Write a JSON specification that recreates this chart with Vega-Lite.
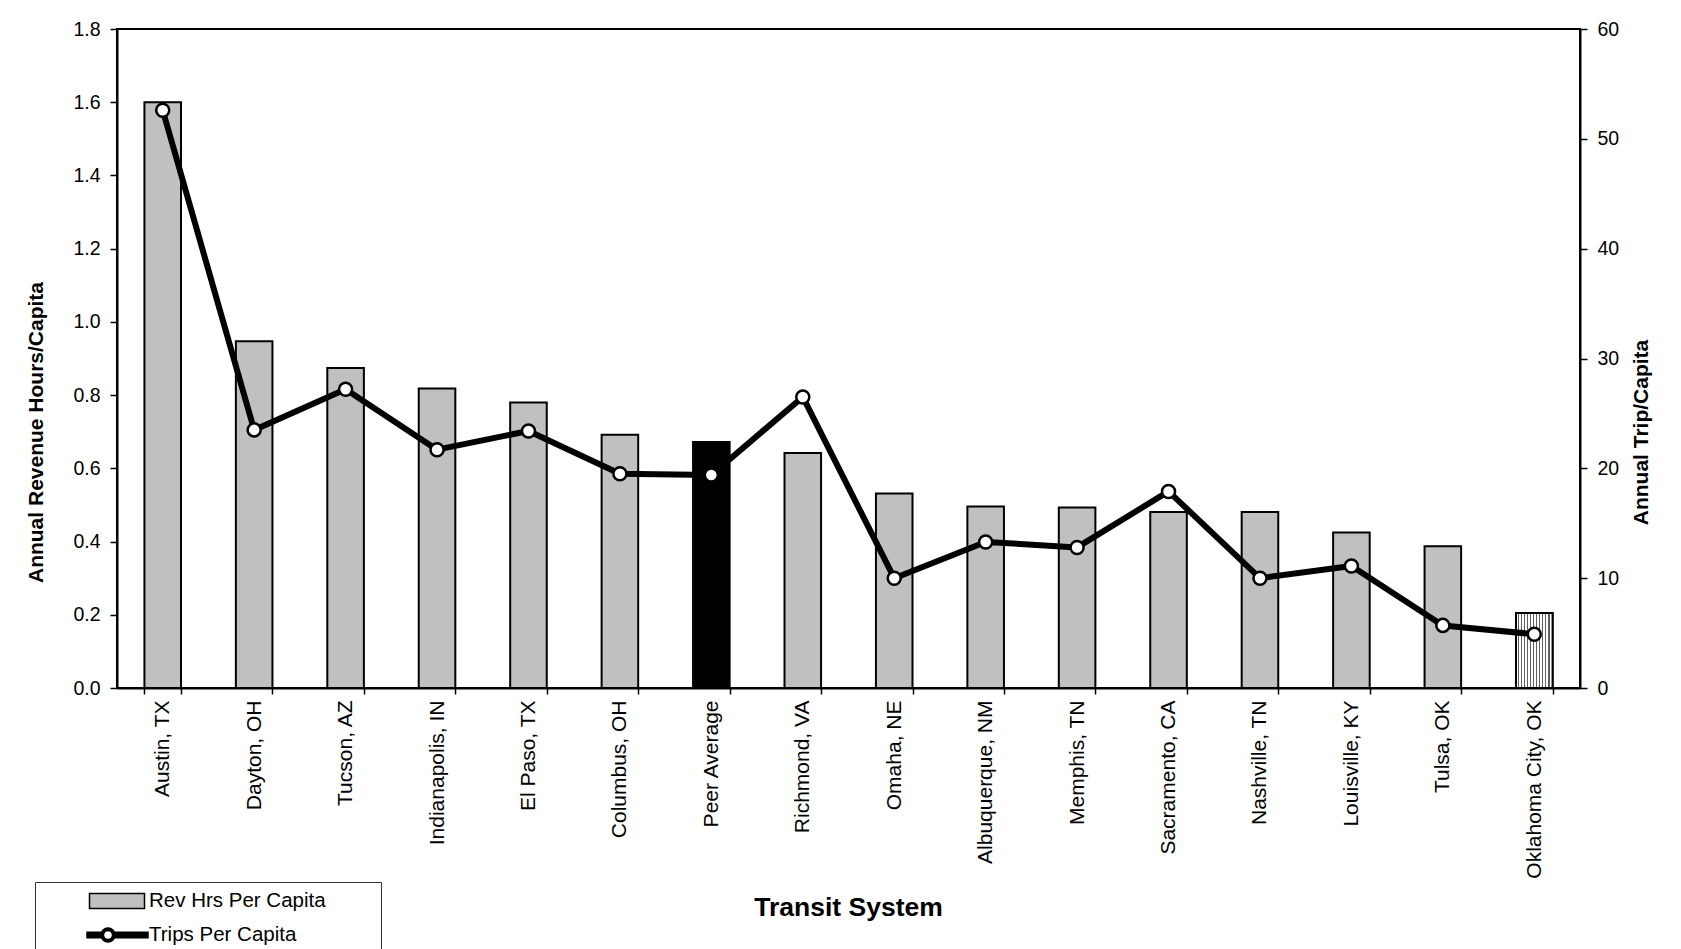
{
  "$schema": "https://vega.github.io/schema/vega-lite/v6.json",
  "width": 1463,
  "height": 659,
  "autosize": {"type": "none"},
  "padding": {"left": 117, "top": 29, "right": 101, "bottom": 261},
  "background": "white",
  "config": {
    "view": {"stroke": "black", "strokeWidth": 2},
    "font": "Liberation Sans",
    "axis": {
      "domainColor": "black", "domainWidth": 2,
      "tickColor": "black", "tickWidth": 1.5,
      "labelColor": "black", "titleColor": "black",
      "labelFont": "Liberation Sans", "titleFont": "Liberation Sans",
      "grid": false
    }
  },
  "data": {
    "values": [
      {"system": "Austin, TX", "revhrs": 1.60, "trips": 52.6},
      {"system": "Dayton, OH", "revhrs": 0.947, "trips": 23.5},
      {"system": "Tucson, AZ", "revhrs": 0.874, "trips": 27.2},
      {"system": "Indianapolis, IN", "revhrs": 0.818, "trips": 21.7},
      {"system": "El Paso, TX", "revhrs": 0.780, "trips": 23.4},
      {"system": "Columbus, OH", "revhrs": 0.692, "trips": 19.5},
      {"system": "Peer Average", "revhrs": 0.672, "trips": 19.4},
      {"system": "Richmond, VA", "revhrs": 0.642, "trips": 26.5},
      {"system": "Omaha, NE", "revhrs": 0.531, "trips": 10.0},
      {"system": "Albuquerque, NM", "revhrs": 0.496, "trips": 13.3},
      {"system": "Memphis, TN", "revhrs": 0.493, "trips": 12.8},
      {"system": "Sacramento, CA", "revhrs": 0.481, "trips": 17.9},
      {"system": "Nashville, TN", "revhrs": 0.481, "trips": 10.0},
      {"system": "Louisville, KY", "revhrs": 0.425, "trips": 11.1},
      {"system": "Tulsa, OK", "revhrs": 0.387, "trips": 5.7},
      {"system": "Oklahoma City, OK", "revhrs": 0.205, "trips": 4.9}
    ]
  },
  "encoding": {
    "x": {
      "field": "system", "type": "nominal", "sort": null,
      "scale": {"paddingInner": 0.6, "paddingOuter": 0.3},
      "axis": {
        "title": "Transit System",
        "titleFontSize": 26.5, "titleFontWeight": "bold",
        "titleX": 731, "titleY": 227, "titleBaseline": "alphabetic", "titleAlign": "center",
        "labelAngle": -90, "labelFontSize": 21, "labelPadding": 6,
        "tickSize": 6, "tickBand": "extent", "labelLimit": 400
      }
    }
  },
  "layer": [
    {
      "encoding": {
        "y": {
          "field": "revhrs", "type": "quantitative",
          "scale": {"domain": [0, 1.8], "nice": false},
          "axis": {
            "title": "Annual Revenue Hours/Capita",
            "orient": "left",
            "values": [0, 0.2, 0.4, 0.6, 0.8, 1.0, 1.2, 1.4, 1.6, 1.8],
            "format": ".1f",
            "labelFontSize": 19.5, "labelPadding": 10, "tickSize": 7,
            "titleFontSize": 21, "titleFontWeight": "bold",
            "titleAngle": -90, "titleX": -75, "titleY": 403,
            "titleBaseline": "alphabetic", "titleAlign": "center"
          }
        }
      },
      "layer": [
        {
          "mark": {"type": "bar", "stroke": "black", "strokeWidth": 2},
          "encoding": {
            "fill": {
              "condition": {"test": "datum.system === 'Peer Average'", "value": "black"},
              "value": "#c0c0c0"
            }
          }
        },
        {
          "transform": [{"filter": "datum.system === 'Oklahoma City, OK'"}],
          "mark": {
            "type": "bar", "stroke": "black", "strokeWidth": 2,
            "fill": {
              "gradient": "linear", "x1": 0, "y1": 0, "x2": 1, "y2": 0,
              "stops": [
                {"offset": 0, "color": "white"}, {"offset": 0.055, "color": "white"}, {"offset": 0.055, "color": "#606060"}, {"offset": 0.0833, "color": "#606060"},
                {"offset": 0.0833, "color": "white"}, {"offset": 0.1383, "color": "white"}, {"offset": 0.1383, "color": "#606060"}, {"offset": 0.1667, "color": "#606060"},
                {"offset": 0.1667, "color": "white"}, {"offset": 0.2217, "color": "white"}, {"offset": 0.2217, "color": "#606060"}, {"offset": 0.25, "color": "#606060"},
                {"offset": 0.25, "color": "white"}, {"offset": 0.305, "color": "white"}, {"offset": 0.305, "color": "#606060"}, {"offset": 0.3333, "color": "#606060"},
                {"offset": 0.3333, "color": "white"}, {"offset": 0.3883, "color": "white"}, {"offset": 0.3883, "color": "#606060"}, {"offset": 0.4167, "color": "#606060"},
                {"offset": 0.4167, "color": "white"}, {"offset": 0.4717, "color": "white"}, {"offset": 0.4717, "color": "#606060"}, {"offset": 0.5, "color": "#606060"},
                {"offset": 0.5, "color": "white"}, {"offset": 0.555, "color": "white"}, {"offset": 0.555, "color": "#606060"}, {"offset": 0.5833, "color": "#606060"},
                {"offset": 0.5833, "color": "white"}, {"offset": 0.6383, "color": "white"}, {"offset": 0.6383, "color": "#606060"}, {"offset": 0.6667, "color": "#606060"},
                {"offset": 0.6667, "color": "white"}, {"offset": 0.7217, "color": "white"}, {"offset": 0.7217, "color": "#606060"}, {"offset": 0.75, "color": "#606060"},
                {"offset": 0.75, "color": "white"}, {"offset": 0.805, "color": "white"}, {"offset": 0.805, "color": "#606060"}, {"offset": 0.8333, "color": "#606060"},
                {"offset": 0.8333, "color": "white"}, {"offset": 0.8883, "color": "white"}, {"offset": 0.8883, "color": "#606060"}, {"offset": 0.9167, "color": "#606060"},
                {"offset": 0.9167, "color": "white"}, {"offset": 0.9717, "color": "white"}, {"offset": 0.9717, "color": "#606060"}, {"offset": 1, "color": "#606060"}
              ]
            }
          }
        }
      ]
    },
    {
      "mark": {
        "type": "line", "color": "black", "strokeWidth": 6, "strokeJoin": "round",
        "point": {"filled": true, "fill": "white", "stroke": "black", "strokeWidth": 2.5, "size": 170, "opacity": 1}
      },
      "encoding": {
        "y": {
          "field": "trips", "type": "quantitative",
          "scale": {"domain": [0, 60], "nice": false},
          "axis": {
            "title": "Annual Trip/Capita",
            "orient": "right",
            "values": [0, 10, 20, 30, 40, 50, 60],
            "labelFontSize": 19.5, "labelPadding": 10, "tickSize": 7,
            "titleFontSize": 21, "titleFontWeight": "bold",
            "titleAngle": -90, "titleX": 67, "titleY": 403,
            "titleBaseline": "alphabetic", "titleAlign": "center"
          }
        }
      }
    },
    {
      "transform": [{"filter": "false"}],
      "mark": {"type": "point", "filled": true, "opacity": 1, "strokeWidth": 1.5},
      "encoding": {
        "shape": {
          "field": "series", "type": "nominal",
          "scale": {
            "domain": ["Rev Hrs Per Capita", "Trips Per Capita"],
            "range": [
              "M 25.3 0 M -2.75 -0.75 L 2.75 -0.75 L 2.75 0.75 L -2.75 0.75 Z",
              "M 25.3 0 M -3 -0.27 L -1.4 -0.27 L -1.4 0.27 L -3 0.27 Z M -0.4 -0.27 L 3.1 -0.27 L 3.1 0.27 L -0.4 0.27 Z M -0.2 0 L -0.253 0.268 L -0.405 0.495 L -0.632 0.647 L -0.9 0.7 L -1.168 0.647 L -1.395 0.495 L -1.547 0.268 L -1.6 0 L -1.547 -0.268 L -1.395 -0.495 L -1.168 -0.647 L -0.9 -0.7 L -0.632 -0.647 L -0.405 -0.495 L -0.253 -0.268 Z M -0.44 0 L -0.475 -0.176 L -0.575 -0.325 L -0.724 -0.425 L -0.9 -0.46 L -1.076 -0.425 L -1.225 -0.325 L -1.325 -0.176 L -1.36 0 L -1.325 0.176 L -1.225 0.325 L -1.076 0.425 L -0.9 0.46 L -0.724 0.425 L -0.575 0.325 L -0.475 0.176 Z"
            ]
          },
          "legend": {
            "title": null, "orient": "none", "legendX": -82, "legendY": 853,
            "padding": 8, "strokeColor": "#333333", "fillColor": "white",
            "labelFontSize": 20.5, "labelFont": "Liberation Sans", "labelColor": "black", "labelLimit": 400,
            "symbolSize": 400, "rowPadding": 12, "symbolOffset": 63, "labelOffset": 21,
            "symbolStrokeWidth": 1.5, "symbolOpacity": 1
          }
        },
        "fill": {
          "field": "series", "type": "nominal",
          "scale": {
            "domain": ["Rev Hrs Per Capita", "Trips Per Capita"],
            "range": ["#c0c0c0", "black"]
          },
          "legend": {
            "title": null, "orient": "none", "legendX": -82, "legendY": 853,
            "padding": 8, "strokeColor": "#333333", "fillColor": "white",
            "labelFontSize": 20.5, "labelFont": "Liberation Sans", "labelColor": "black", "labelLimit": 400,
            "symbolSize": 400, "rowPadding": 12, "symbolOffset": 63, "labelOffset": 21,
            "symbolStrokeWidth": 1.5, "symbolOpacity": 1
          }
        },
        "stroke": {
          "field": "series", "type": "nominal",
          "scale": {
            "domain": ["Rev Hrs Per Capita", "Trips Per Capita"],
            "range": ["black", "black"]
          },
          "legend": {
            "title": null, "orient": "none", "legendX": -82, "legendY": 853,
            "padding": 8, "strokeColor": "#333333", "fillColor": "white",
            "labelFontSize": 20.5, "labelFont": "Liberation Sans", "labelColor": "black", "labelLimit": 400,
            "symbolSize": 400, "rowPadding": 12, "symbolOffset": 63, "labelOffset": 21,
            "symbolStrokeWidth": 1.5, "symbolOpacity": 1
          }
        }
      }
    }
  ],
  "resolve": {"scale": {"y": "independent"}}
}
